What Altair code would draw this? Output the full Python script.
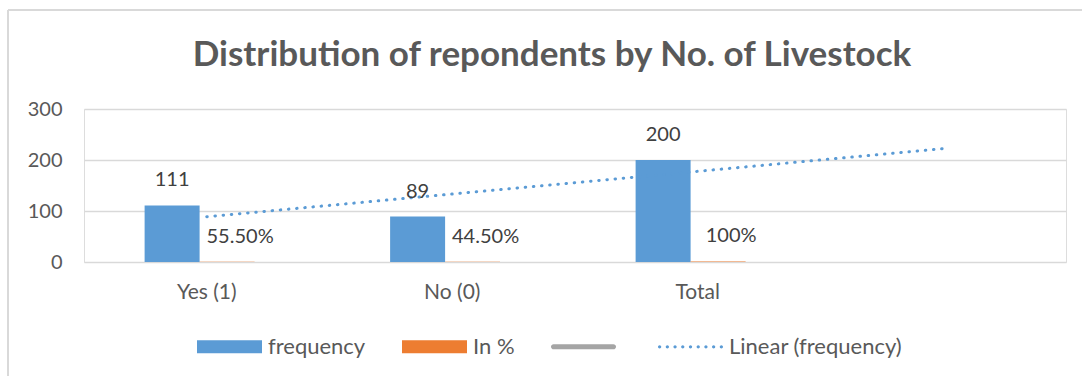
import altair as alt
import pandas as pd

categories = ["Yes (1)", "No (0)", "Total"]
frequency = [111, 89, 200]
in_pct = [0.555, 0.445, 1.0]
in_pct_labels = ["55.50%", "44.50%", "100%"]
trend_categories = ["Yes (1)", "No (0)", "Total", " "]
trend_values = [88.8, 133.3, 177.8, 222.3]
legend_series = ["frequency", "In %", " ", "Linear (frequency)"]
y_ticks = [0, 100, 200, 300]

BLUE = "#5B9BD5"
ORANGE = "#ED7D31"
GRAY = "#A5A5A5"
TXT = "#404040"
AX = "#595959"
FONT = "Lato"

freq_df = pd.DataFrame({"cat": categories, "series": "frequency", "value": frequency,
                        "label": [str(v) for v in frequency]})
pct_df = pd.DataFrame({"cat": categories, "series": "In %", "value": in_pct, "label": in_pct_labels})
bars = pd.concat([freq_df, pct_df], ignore_index=True)
trend = pd.DataFrame({"cat": trend_categories, "value": trend_values})
legend_df = pd.DataFrame({"series": legend_series})

xscale = alt.Scale(domain=trend_categories, paddingInner=0, paddingOuter=0)
yscale = alt.Scale(domain=[0, 300])
xoff = alt.XOffset("series:N", scale=alt.Scale(domain=["_pad1", "frequency", "In %", "_pad2"],
                                               paddingInner=0, paddingOuter=0.232, align=0.22))

x_enc = alt.X("cat:N", scale=xscale, sort=trend_categories,
              axis=alt.Axis(title=None, domain=False, ticks=False, labelAngle=0,
                            labelFont=FONT, labelFontSize=21, labelColor=AX,
                            labelPadding=19, grid=False))
y_enc = alt.Y("value:Q", scale=yscale,
              axis=alt.Axis(title=None, values=y_ticks, domain=False, ticks=False,
                            labelFont=FONT, labelFontSize=20, labelColor=AX,
                            labelPadding=22, grid=True, gridColor="#D9D9D9", gridWidth=1.5))

xs = alt.X("cat:N", scale=xscale, sort=trend_categories)
ys = alt.Y("value:Q", scale=yscale)

bar_layer = alt.Chart(bars).mark_bar().encode(
    x=x_enc, y=y_enc, xOffset=xoff,
    color=alt.condition(alt.datum.series == "frequency", alt.value(BLUE), alt.value(ORANGE)),
)
freq_text = alt.Chart(freq_df).mark_text(font=FONT, fontSize=20, color=TXT, dy=-25, baseline="middle").encode(
    x=xs, y=ys, xOffset=xoff, text="label:N")
pct_text = alt.Chart(pct_df).mark_text(font=FONT, fontSize=20, color=TXT, dy=-25, dx=13, baseline="middle").encode(
    x=xs, y=ys, xOffset=xoff, text="label:N")
trend_layer = alt.Chart(trend).mark_line(color=BLUE, strokeWidth=3, strokeDash=[0.5, 7.7], strokeCap="round").encode(
    x=xs, y=ys)

def dots_path():
    parts = []
    r = 0.05
    n = 9
    for i in range(n):
        cx = -0.95 + i * (1.9 / (n - 1))
        parts.append(f"M{cx - r:.3f},0a{r},{r} 0 1,0 {2*r},0a{r},{r} 0 1,0 {-2*r},0")
    return "".join(parts)

rect_path = "M-1,-0.2H1V0.2H-1Z"
gray_path = "M-0.92,-0.08H0.92A0.08,0.08 0 0,1 0.92,0.08H-0.92A0.08,0.08 0 0,1 -0.92,-0.08Z"

leg = alt.Legend(title=None, orient="none", legendX=113, legendY=205,
                 direction="horizontal", columns=4, columnPadding=36,
                 symbolSize=4225, symbolOpacity=1, symbolStrokeWidth=0, labelLimit=400,
                 labelOffset=6, labelFont=FONT, labelFontSize=22, labelColor=AX)

legend_layer = alt.Chart(legend_df).mark_point(filled=True, opacity=0).encode(
    x=alt.value(0), y=alt.value(0),
    color=alt.Color("series:N", scale=alt.Scale(domain=legend_series, range=[BLUE, ORANGE, GRAY, BLUE]),
                    legend=leg),
    shape=alt.Shape("series:N", scale=alt.Scale(domain=legend_series,
                                                range=[rect_path, rect_path, gray_path, dots_path()]),
                    legend=leg),
)

border_top = alt.Chart(legend_df).mark_rule(color="#D9D9D9", strokeWidth=1.5).encode(
    x=alt.value(-76), x2=alt.value(1000), y=alt.value(-99))
border_left = alt.Chart(legend_df).mark_rule(color="#D9D9D9", strokeWidth=1.5).encode(
    x=alt.value(-76), y=alt.value(-99), y2=alt.value(270))

chart = alt.layer(border_top, border_left, bar_layer, trend_layer, freq_text, pct_text, legend_layer).properties(
    width=982, height=153,
    title=alt.Title("Distribution of repondents by No. of Livestock", font=FONT, fontSize=35,
                    fontWeight="bold", color=AX, anchor="middle", dx=-23, offset=-92,
                    baseline="alphabetic"),
    autosize=alt.AutoSizeParams(type="none"),
    padding={"left": 84, "top": 109, "right": 16, "bottom": 114},
).configure_view(stroke=None).configure(background="white")

chart.save("out.html", embed_options={"renderer": "svg", "actions": False})
